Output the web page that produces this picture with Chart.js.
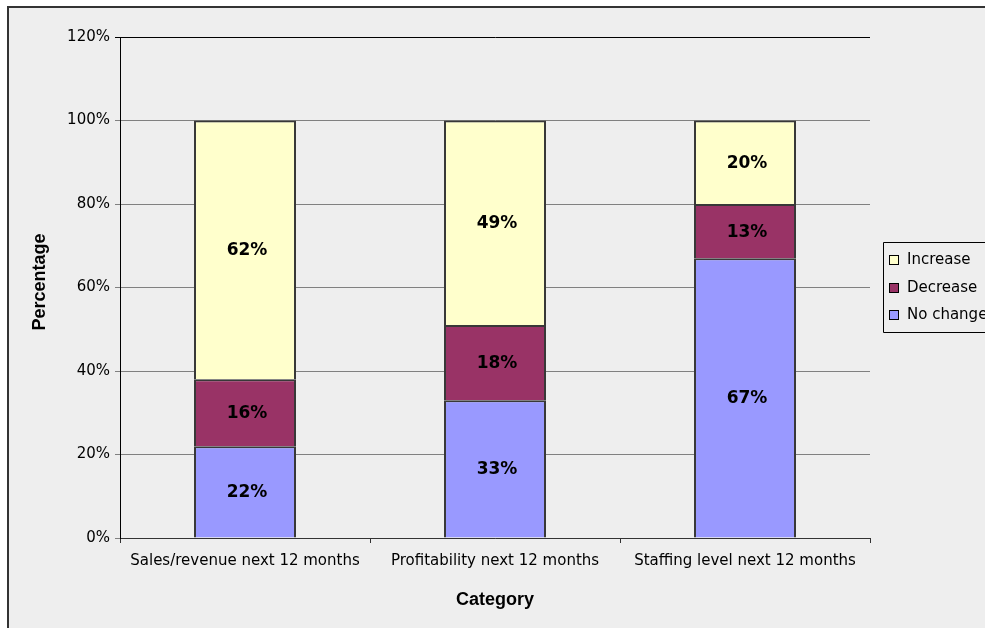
<!DOCTYPE html>
<html>
<head>
<meta charset="utf-8">
<title>Outlook for the next 12 months</title>
<script src="https://cdn.jsdelivr.net/npm/chart.js@4.4.1/dist/chart.umd.min.js"></script>
<style>
  html, body { margin: 0; padding: 0; background: #ffffff; }
  #wrap { position: relative; width: 985px; height: 628px; }
</style>
</head>
<body>
<div id="wrap"><canvas id="chart" width="985" height="628"></canvas></div>
<script>
// Survey categories and the share of responses for each outlook
const categories = ['Sales/revenue next 12 months', 'Profitability next 12 months', 'Staffing level next 12 months'];
const noChange = [22, 33, 67];
const decrease = [16, 18, 13];
const increase = [62, 49, 20];
const yTicks = [0, 20, 40, 60, 80, 100, 120];

const AXIS_FONT = '"DejaVu Sans", Verdana, sans-serif';
const TITLE_FONT = '"Liberation Sans", Arial, sans-serif';

// Grey chart panel with a dark frame on the left and top edges
const panelPlugin = {
  id: 'panel',
  beforeDraw(chart) {
    const ctx = chart.ctx;
    ctx.save();
    ctx.fillStyle = '#ffffff';
    ctx.fillRect(0, 0, chart.width, chart.height);
    ctx.fillStyle = '#eeeeee';
    ctx.fillRect(8, 7, chart.width - 8, chart.height - 7);
    ctx.strokeStyle = '#333333';
    ctx.lineWidth = 2;
    ctx.beginPath();
    ctx.moveTo(8, chart.height);
    ctx.lineTo(8, 7);
    ctx.lineTo(chart.width + 2, 7);
    ctx.stroke();
    ctx.restore();
  }
};

// Value labels in the middle of every stacked segment
const valueLabels = {
  id: 'valueLabels',
  afterDatasetsDraw(chart) {
    const ctx = chart.ctx;
    ctx.save();
    ctx.font = 'bold 17px ' + AXIS_FONT;
    ctx.fillStyle = '#000000';
    ctx.textAlign = 'center';
    ctx.textBaseline = 'middle';
    chart.data.datasets.forEach((ds, i) => {
      const meta = chart.getDatasetMeta(i);
      meta.data.forEach((bar, j) => {
        const v = ds.data[j];
        ctx.fillText(v + '%', bar.x + 2, (bar.y + bar.base) / 2 + 1);
      });
    });
    ctx.restore();
  }
};

// Axis titles
const axisTitles = {
  id: 'axisTitles',
  afterDraw(chart) {
    const ctx = chart.ctx;
    const area = chart.chartArea;
    ctx.save();
    ctx.font = 'bold 18px ' + TITLE_FONT;
    ctx.fillStyle = '#000000';
    ctx.textAlign = 'center';
    ctx.textBaseline = 'middle';
    ctx.fillText('Category', (area.left + area.right) / 2, 600);
    ctx.translate(40, 282);
    ctx.rotate(-Math.PI / 2);
    ctx.fillText('Percentage', 0, 0);
    ctx.restore();
  }
};

// Boxed legend, listed top-down in reverse stacking order
const boxLegend = {
  id: 'boxLegend',
  afterDraw(chart) {
    const ctx = chart.ctx;
    const left = 883, top = 242, bottom = 332;
    ctx.save();
    ctx.fillStyle = '#eeeeee';
    ctx.fillRect(left, top, chart.width - left, bottom - top);
    ctx.strokeStyle = '#000000';
    ctx.lineWidth = 1;
    ctx.beginPath();
    ctx.moveTo(chart.width + 2, top + 0.5);
    ctx.lineTo(left + 0.5, top + 0.5);
    ctx.lineTo(left + 0.5, bottom + 0.5);
    ctx.lineTo(chart.width + 2, bottom + 0.5);
    ctx.stroke();
    const items = chart.data.datasets.slice().reverse();
    ctx.font = '15px ' + AXIS_FONT;
    ctx.textBaseline = 'middle';
    ctx.textAlign = 'left';
    items.forEach((ds, k) => {
      const cy = Math.round(260 + k * 27.5);
      ctx.fillStyle = ds.backgroundColor;
      ctx.fillRect(889.5, cy - 4.5, 9, 9);
      ctx.strokeStyle = '#000000';
      ctx.strokeRect(889.5, cy - 4.5, 9, 9);
      ctx.fillStyle = '#000000';
      ctx.fillText(ds.label, 907, cy);
    });
    ctx.restore();
  }
};

new Chart(document.getElementById('chart'), {
  type: 'bar',
  data: {
    labels: categories,
    datasets: [
      { label: 'No change', data: noChange, backgroundColor: '#9999ff' },
      { label: 'Decrease', data: decrease, backgroundColor: '#993366' },
      { label: 'Increase', data: increase, backgroundColor: '#ffffcc' }
    ].map(d => Object.assign(d, {
      borderColor: '#383838',
      borderWidth: 2,
      borderSkipped: 'start',
      barPercentage: 0.408,
      categoryPercentage: 1
    }))
  },
  options: {
    responsive: false,
    animation: false,
    events: [],
    layout: { padding: { top: 37, right: 115, left: 0, bottom: 0 } },
    plugins: {
      legend: { display: false },
      tooltip: { enabled: false },
      title: { display: false }
    },
    datasets: {
      bar: { inflateAmount: 0 }
    },
    scales: {
      x: {
        stacked: true,
        afterFit(scale) { scale.height = 90; },
        grid: {
          offset: true,
          drawOnChartArea: false,
          drawTicks: true,
          tickLength: 5,
          color: '#333333'
        },
        border: { color: '#333333', width: 1 },
        ticks: {
          color: '#000000',
          font: { family: AXIS_FONT, size: 15 },
          padding: 9,
          maxRotation: 0,
          autoSkip: false
        }
      },
      y: {
        stacked: true,
        min: 0,
        max: 120,
        afterFit(scale) { scale.width = 120; },
        afterBuildTicks(scale) { scale.ticks = yTicks.map(v => ({ value: v })); },
        grid: {
          drawTicks: true,
          tickLength: 5,
          color: ctx => (ctx.tick && ctx.tick.value === 120 ? '#000000' : '#808080'),
          lineWidth: 1
        },
        border: { color: '#000000', width: 1 },
        ticks: {
          color: '#000000',
          font: { family: AXIS_FONT, size: 15 },
          padding: 5,
          callback: v => v + '%'
        }
      }
    }
  },
  plugins: [panelPlugin, valueLabels, axisTitles, boxLegend]
});
</script>
</body>
</html>
